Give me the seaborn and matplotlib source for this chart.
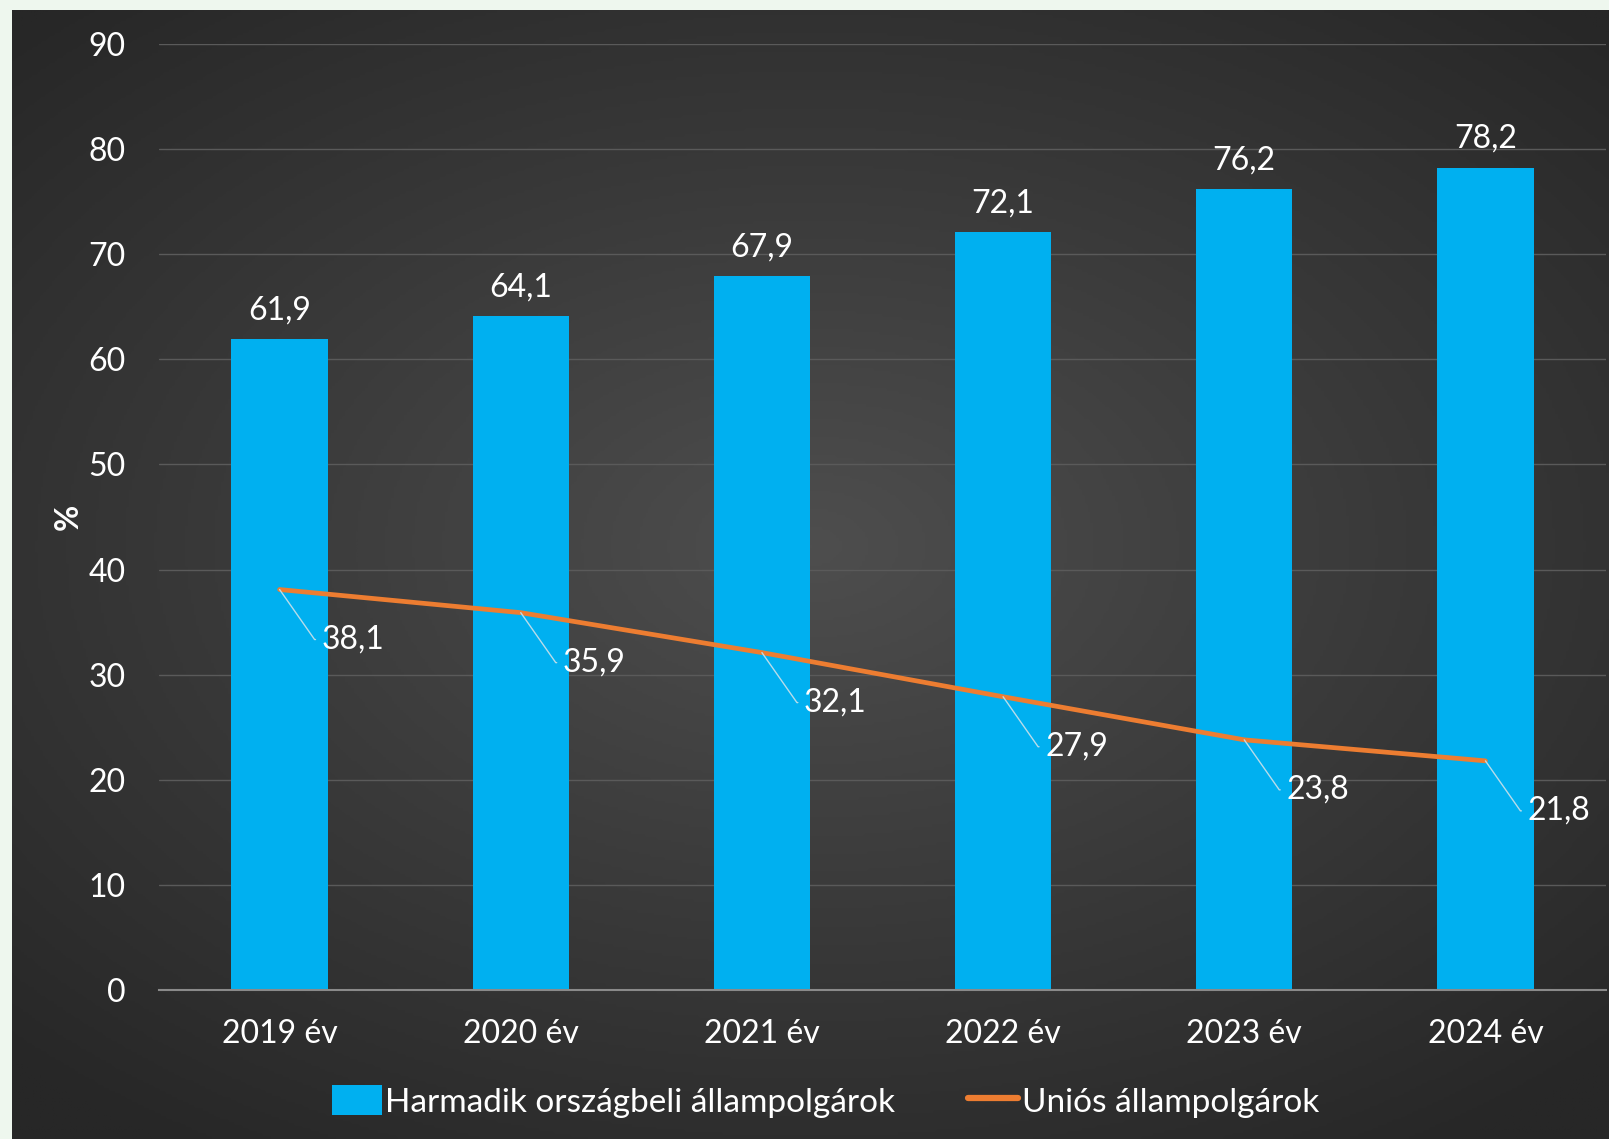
import numpy as np
import matplotlib
matplotlib.use("Agg")
import matplotlib.pyplot as plt
from matplotlib.colors import LinearSegmentedColormap
from matplotlib.patches import Patch
from matplotlib.lines import Line2D
import seaborn as sns

# data
years = ["2019 év", "2020 év", "2021 év", "2022 év", "2023 év", "2024 év"]
third_country = [61.9, 64.1, 67.9, 72.1, 76.2, 78.2]
eu_citizens = [38.1, 35.9, 32.1, 27.9, 23.8, 21.8]
y_ticks = [0, 10, 20, 30, 40, 50, 60, 70, 80, 90]
legend_labels = ["Harmadik országbeli állampolgárok", "Uniós állampolgárok"]

BLUE = "#00b0f0"
ORANGE = "#ed7d31"
W, H = 1609, 1139
FS = 23

sns.set_style("white")
plt.rcParams["font.family"] = ["Lato", "DejaVu Sans"]

fig = plt.figure(figsize=(W / 100, H / 100), dpi=100, facecolor="#eef7ee")

# dark radial-gradient panel behind the chart
bg = fig.add_axes([12 / W, 0, 1 - 12 / W, 1 - 10 / H])
yy, xx = np.mgrid[-1:1:400j, -1:1:560j]
r = np.sqrt((xx * 0.95) ** 2 + ((yy + 0.05) * 1.05) ** 2)
cmap_bg = LinearSegmentedColormap.from_list("bg", ["#4e4e4e", "#3a3a3a", "#272727"])
bg.imshow(r, cmap=cmap_bg, vmin=0, vmax=1.35, aspect="auto", extent=[0, 1, 0, 1])
bg.set_axis_off()

ax = fig.add_axes([159 / W, 149 / H, (1606 - 159) / W, (1095 - 149) / H])
ax.set_facecolor("none")

sns.barplot(x=years, y=third_country, color=BLUE, width=0.4, saturation=1,
            edgecolor="none", linewidth=0, ax=ax, zorder=3)
sns.lineplot(x=np.arange(len(years)), y=eu_citizens, color=ORANGE,
             linewidth=3.4, ax=ax, zorder=4)

ax.set_xlim(-0.5, len(years) - 0.5)
ax.set_ylim(0, 90)
ax.set_yticks(y_ticks)
ax.grid(axis="y", color="#5a5a5a", linewidth=1, zorder=0)
ax.set_axisbelow(True)
for s in ["top", "right", "left"]:
    ax.spines[s].set_visible(False)
ax.spines["bottom"].set_color("#8a8a8a")
ax.spines["bottom"].set_linewidth(1.5)
ax.spines["bottom"].set_zorder(5)
ax.tick_params(axis="both", length=0, colors="white", labelsize=FS)
ax.tick_params(axis="y", pad=24)
ax.tick_params(axis="x", pad=21)
ax.set_xlabel("")
ax.set_ylabel("%", color="white", fontsize=FS, fontweight="bold", labelpad=4)

# value labels on bars
for i, v in enumerate(third_country):
    ax.annotate(f"{v:.1f}".replace(".", ","), (i, v), xytext=(0, 14),
                textcoords="offset pixels", ha="center", va="bottom",
                color="white", fontsize=FS)

# value labels on line, with leader lines
for i, v in enumerate(eu_citizens):
    ax.annotate(f"{v:.1f}".replace(".", ","), (i, v), xytext=(42, -50),
                textcoords="offset pixels", ha="left", va="center",
                color="white", fontsize=FS, zorder=6,
                arrowprops=dict(arrowstyle="-", color="#b8dcea", lw=1,
                                shrinkA=2, shrinkB=0,
                                connectionstyle="angle,angleA=0,angleB=-55,rad=0",
                                relpos=(0, 0.5)))

handles = [Patch(facecolor=BLUE, edgecolor="none"),
           Line2D([0], [0], color=ORANGE, linewidth=4.5)]
fig.legend(handles, legend_labels, loc="center", bbox_to_anchor=(0.513, 0.033),
           ncol=2, frameon=False, fontsize=FS + 1, labelcolor="white",
           handlelength=1.5, handleheight=1.0, handletextpad=0.1,
           columnspacing=2.2)

fig.savefig("out.png", dpi=100, facecolor=fig.get_facecolor())
